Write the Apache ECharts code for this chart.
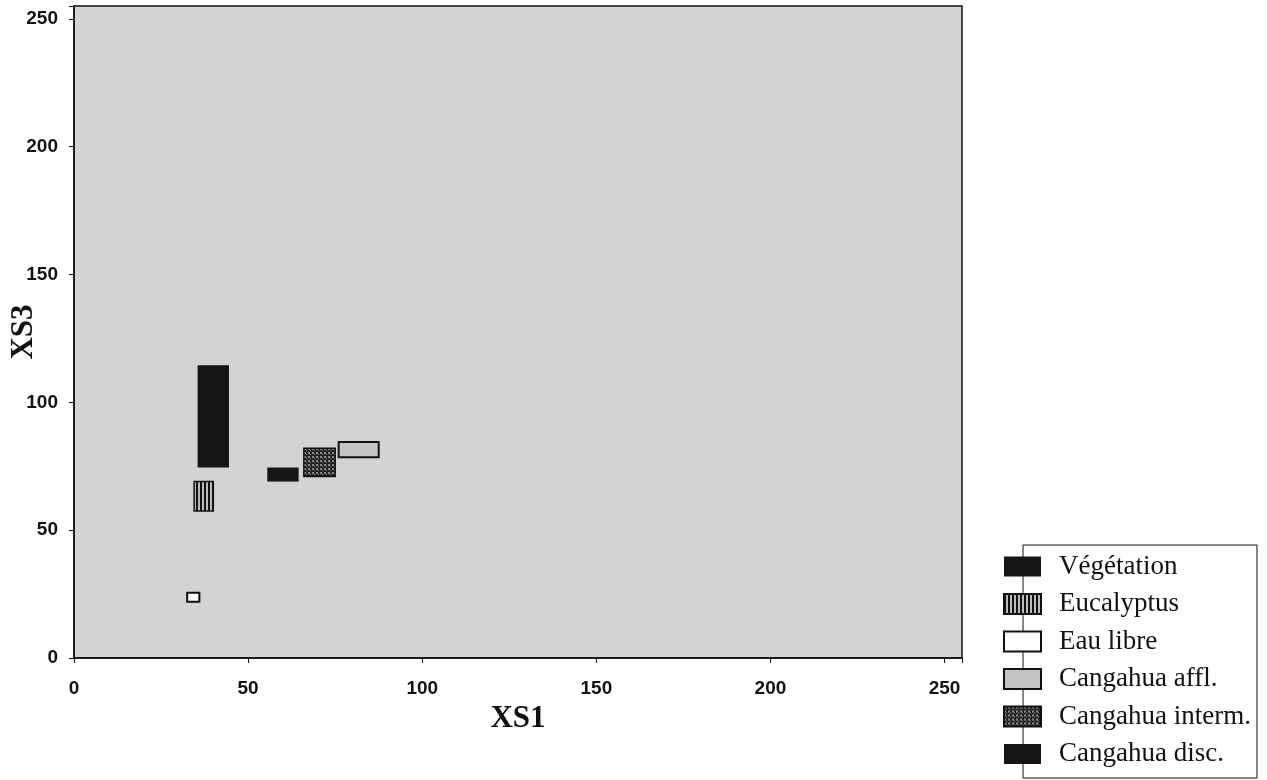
<!DOCTYPE html>
<html>
<head>
    <meta charset="utf-8">
    <title>XS1 / XS3</title>
    <script src="https://cdn.jsdelivr.net/npm/echarts@6/dist/echarts.min.js"></script>
    <style>
        html, body { margin: 0; padding: 0; background: #fff; }
        #main { width: 1267px; height: 780px; }
    </style>
</head>
<body>
<div id="main"></div>
<script type="text/javascript">
    // classes and their XS1 / XS3 ranges (boxes)
    var categories = ['Végétation', 'Eucalyptus', 'Eau libre', 'Cangahua affl.', 'Cangahua interm.', 'Cangahua disc.'];
    var xs1Min = [35.5, 34.5, 32.5, 76, 66, 55.5];
    var xs1Max = [44.5, 40, 36, 87.5, 75, 64.5];
    var xs3Min = [74.5, 57.5, 22, 78.5, 71, 69];
    var xs3Max = [114.5, 69, 25.5, 84.5, 82, 74.5];
    var axisTicks = [0, 50, 100, 150, 200, 250];

    // small canvas patterns for the hatched fills
    function makePattern(w, h, draw) {
        var c = document.createElement('canvas');
        c.width = w;
        c.height = h;
        draw(c.getContext('2d'));
        return { image: c, repeat: 'repeat' };
    }
    var stripes = makePattern(4, 4, function (ctx) {
        ctx.fillStyle = '#bbbbbb';
        ctx.fillRect(0, 0, 4, 4);
        ctx.fillStyle = '#111111';
        ctx.fillRect(0, 0, 2, 4);
    });
    var dots = makePattern(4, 4, function (ctx) {
        ctx.fillStyle = '#222222';
        ctx.fillRect(0, 0, 4, 4);
        ctx.fillStyle = '#8a8a8a';
        ctx.fillRect(0, 0, 2, 2);
        ctx.fillRect(2, 2, 1, 1);
    });

    var styles = [
        { color: '#151515', borderColor: '#151515', borderWidth: 0 },
        { color: stripes, borderColor: '#111', borderWidth: 1.5 },
        { color: '#ffffff', borderColor: '#111', borderWidth: 2 },
        { color: '#c4c4c4', borderColor: '#111', borderWidth: 2 },
        { color: dots, borderColor: '#111', borderWidth: 1.5 },
        { color: '#151515', borderColor: '#151515', borderWidth: 0 }
    ];

    function renderBox(params, api) {
        var p0 = api.coord([api.value(0), api.value(3)]);
        var p1 = api.coord([api.value(1), api.value(2)]);
        return {
            type: 'rect',
            shape: { x: p0[0], y: p0[1], width: p1[0] - p0[0], height: p1[1] - p0[1] },
            style: api.style()
        };
    }

    var series = categories.map(function (name, i) {
        return {
            name: name,
            type: 'custom',
            renderItem: renderBox,
            itemStyle: styles[i],
            encode: { x: [0, 1], y: [2, 3] },
            data: [[xs1Min[i], xs1Max[i], xs3Min[i], xs3Max[i]]]
        };
    });

    function tickLabel(v) {
        return axisTicks.indexOf(v) >= 0 ? String(v) : '';
    }

    var labelStyle = { formatter: tickLabel, fontFamily: 'Liberation Sans', fontWeight: 'bold', fontSize: 19, color: '#111' };
    var nameStyle = { fontFamily: 'Liberation Serif', fontWeight: 'bold', fontSize: 31, color: '#111' };

    var myChart = echarts.init(document.getElementById('main'));
    var option = {
        backgroundColor: '#ffffff',
        animation: false,
        grid: {
            left: 74, right: 305, top: 6, bottom: 122,
            outerBoundsMode: 'none',
            containLabel: false,
            show: true,
            backgroundColor: '#d3d3d3',
            borderColor: '#111',
            borderWidth: 1.5
        },
        xAxis: {
            type: 'value',
            min: 0, max: 255, interval: 50,
            name: 'XS1',
            nameLocation: 'middle',
            nameGap: 45,
            nameMoveOverlap: false,
            nameTextStyle: nameStyle,
            axisLine: { show: true, lineStyle: { color: '#111', width: 1.5 } },
            axisTick: { show: true, length: 5, lineStyle: { color: '#111' } },
            axisLabel: Object.assign({ margin: 21 }, labelStyle),
            splitLine: { show: false }
        },
        yAxis: {
            type: 'value',
            min: 0, max: 255, interval: 50,
            name: 'XS3',
            nameLocation: 'middle',
            nameGap: 35,
            nameMoveOverlap: false,
            nameTextStyle: nameStyle,
            axisLine: { show: true, lineStyle: { color: '#111', width: 1.5 } },
            axisTick: { show: true, length: 5, lineStyle: { color: '#111' } },
            axisLabel: Object.assign({ margin: 16 }, labelStyle),
            splitLine: { show: false }
        },
        legend: {
            orient: 'vertical',
            left: 1003,
            top: 553,
            padding: 0,
            itemWidth: 37,
            itemHeight: 20,
            itemGap: 10.5,
            icon: 'rect',
            data: categories,
            textStyle: {
                fontFamily: 'Liberation Serif',
                fontSize: 27,
                color: '#111',
                padding: [0, 0, 0, 13]
            }
        },
        graphic: [{
            type: 'rect',
            z: 0,
            shape: { x: 1023, y: 545, width: 234, height: 233 },
            style: { fill: '#fff', stroke: '#111', lineWidth: 1 }
        }],
        series: series
    };
    myChart.setOption(option);
</script>
</body>
</html>
